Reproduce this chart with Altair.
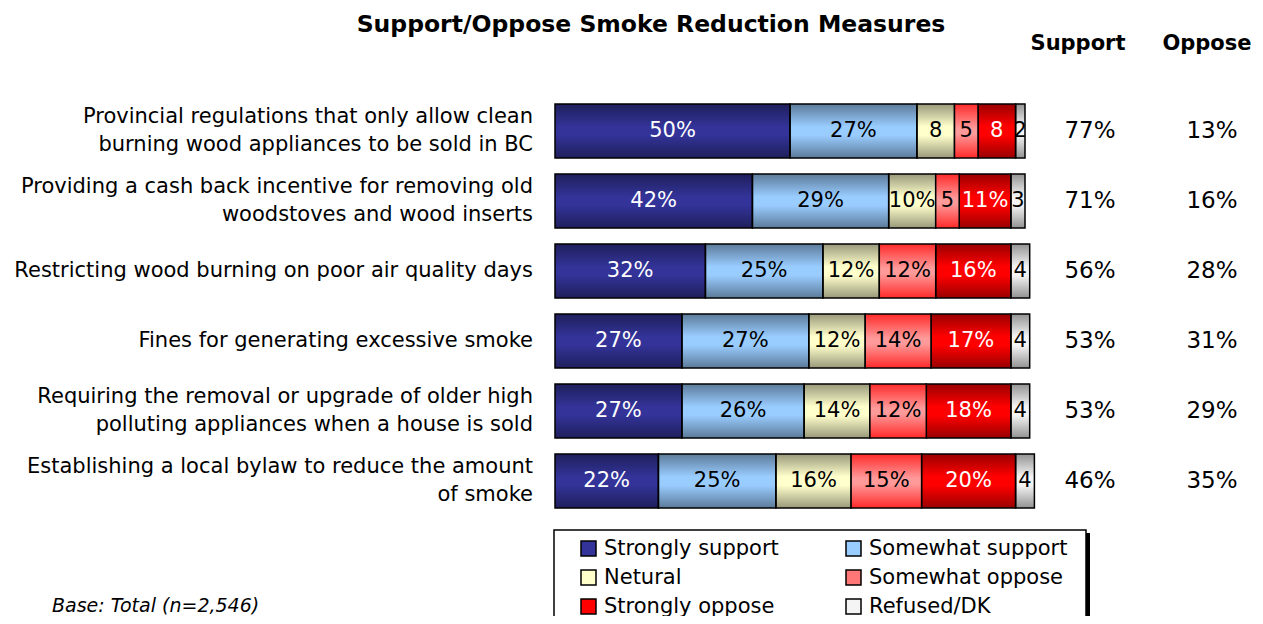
import altair as alt
import pandas as pd

title_text = "Support/Oppose Smoke Reduction Measures"
items = [
    "Provincial regulations that only allow clean\nburning wood appliances to be sold in BC",
    "Providing a cash back incentive for removing old\nwoodstoves and wood inserts",
    "Restricting wood burning on poor air quality days",
    "Fines for generating excessive smoke",
    "Requiring the removal or upgrade of older high\npolluting appliances when a house is sold",
    "Establishing a local bylaw to reduce the amount\nof smoke",
]
categories = ["Strongly support", "Somewhat support", "Netural",
              "Somewhat oppose", "Strongly oppose", "Refused/DK"]
strongly_support = [50, 42, 32, 27, 27, 22]
somewhat_support = [27, 29, 25, 27, 26, 25]
neutral = [8, 10, 12, 12, 14, 16]
somewhat_oppose = [5, 5, 12, 14, 12, 15]
strongly_oppose = [8, 11, 16, 17, 18, 20]
refused_dk = [2, 3, 4, 4, 4, 4]
support_totals = [77, 71, 56, 53, 53, 46]
oppose_totals = [13, 16, 28, 31, 29, 35]
base_note = "Base: Total (n=2,546)"

colors = ["#333399", "#99CCFF", "#FFFFCC", "#FF7777", "#FF0000", "#F4F4F4"]
FONT = "DejaVu Sans"

series = [strongly_support, somewhat_support, neutral,
          somewhat_oppose, strongly_oppose, refused_dk]
rows = []
for i, it in enumerate(items):
    for j, (cat, vals) in enumerate(zip(categories, series)):
        v = vals[i]
        rows.append({"item": it, "cat": cat, "order": j, "value": v,
                     "label": f"{v}%" if v >= 10 else str(v)})
df = pd.DataFrame(rows)

tot = pd.DataFrame({"item": items,
                    "sup": [f"{v}%" for v in support_totals],
                    "opp": [f"{v}%" for v in oppose_totals]})

y_enc = alt.Y("item:N", sort=items, axis=None,
              scale=alt.Scale(paddingInner=0.23, paddingOuter=0.115))
x_scale = alt.Scale(domain=[0, 100], nice=False, zero=True)

base = alt.Chart(df).transform_stack(
    stack="value", groupby=["item"], as_=["x0", "x1"],
    sort=[alt.SortField("order")]
).transform_calculate(mid="(datum.x0 + datum.x1) / 2")

bars = base.mark_bar(strokeWidth=0).encode(
    x=alt.X("x0:Q", scale=x_scale, axis=None),
    x2="x1:Q",
    y=y_enc,
    color=alt.Color("cat:N", scale=alt.Scale(domain=categories, range=colors),
                    legend=alt.Legend(title=None, orient="none", legendX=23, legendY=442,
                                      direction="horizontal",
                                      columns=2, columnPadding=64, rowPadding=7,
                                      symbolType="square", symbolSize=225,
                                      symbolStrokeColor="black", symbolStrokeWidth=1.5,
                                      labelFont=FONT, labelFontSize=21, labelColor="black",
                                      labelLimit=400, labelOffset=5, padding=0,
                                      symbolOpacity=1)),
)

is_so = "datum.cat === 'Somewhat oppose'"
shade = base.transform_filter("!(" + is_so + ")").mark_bar(
    fill=alt.Gradient(gradient="linear", x1=0, x2=0, y1=0, y2=1,
                      stops=[alt.GradientStop(color="rgba(0,0,0,0.40)", offset=0),
                             alt.GradientStop(color="rgba(0,0,0,0)", offset=0.42),
                             alt.GradientStop(color="rgba(0,0,0,0)", offset=0.58),
                             alt.GradientStop(color="rgba(0,0,0,0.40)", offset=1)]),
    stroke="black", strokeWidth=1.5,
).encode(x=alt.X("x0:Q", scale=x_scale, axis=None), x2="x1:Q", y=y_enc)

shade_so = base.transform_filter(is_so).mark_bar(
    fill=alt.Gradient(gradient="linear", x1=0, x2=0, y1=0, y2=1,
                      stops=[alt.GradientStop(color="#FF2A2A", offset=0),
                             alt.GradientStop(color="#FF9A9A", offset=0.45),
                             alt.GradientStop(color="#FF9A9A", offset=0.55),
                             alt.GradientStop(color="#FF2A2A", offset=1)]),
    stroke="black", strokeWidth=1.5,
).encode(x=alt.X("x0:Q", scale=x_scale, axis=None), x2="x1:Q", y=y_enc)

seg_text = base.mark_text(font=FONT, fontSize=21).encode(
    x=alt.X("mid:Q", scale=x_scale, axis=None),
    y=y_enc,
    text="label:N",
    color=alt.condition(alt.FieldOneOfPredicate(field="cat", oneOf=["Strongly support", "Strongly oppose"]),
                        alt.value("white"), alt.value("black")),
)

two_line = "indexof(datum.item, '\\n') >= 0"
row_labels_2 = alt.Chart(tot).transform_filter(two_line).mark_text(
    font=FONT, fontSize=21, align="right", lineBreak="\n", lineHeight=28,
    color="black", dy=-14).encode(x=alt.value(-22), y=y_enc, text="item:N")
row_labels_1 = alt.Chart(tot).transform_filter("!(" + two_line + ")").mark_text(
    font=FONT, fontSize=21, align="right", color="black").encode(
    x=alt.value(-22), y=y_enc, text="item:N")

sup_text = alt.Chart(tot).mark_text(font=FONT, fontSize=23, color="black").encode(
    x=alt.value(535), y=y_enc, text="sup:N")
opp_text = alt.Chart(tot).mark_text(font=FONT, fontSize=23, color="black").encode(
    x=alt.value(657), y=y_enc, text="opp:N")

one = pd.DataFrame({"t": [title_text], "s": ["Support"], "o": ["Oppose"], "b": [base_note]})
title = alt.Chart(one).mark_text(font=FONT, fontSize=23.5, fontWeight="bold", color="black").encode(
    x=alt.value(96), y=alt.value(-71), text="t:N")
h_sup = alt.Chart(one).mark_text(font=FONT, fontSize=21, fontWeight="bold", color="black").encode(
    x=alt.value(523), y=alt.value(-52), text="s:N")
h_opp = alt.Chart(one).mark_text(font=FONT, fontSize=21, fontWeight="bold", color="black").encode(
    x=alt.value(652), y=alt.value(-52), text="o:N")
note = alt.Chart(one).mark_text(font=FONT, fontSize=19, fontStyle="italic", align="left",
                                color="black").encode(
    x=alt.value(-503), y=alt.value(510), text="b:N")

legend_box = alt.Chart(one).mark_rect(fill="white", stroke="black", strokeWidth=1.5).encode(
    x=alt.value(-1), x2=alt.value(531), y=alt.value(434), y2=alt.value(540))
legend_shadow = alt.Chart(one).mark_rect(fill="black").encode(
    x=alt.value(531), x2=alt.value(535), y=alt.value(437), y2=alt.value(540))

chart = alt.layer(
    legend_shadow, legend_box, bars, shade, shade_so, seg_text, row_labels_2, row_labels_1,
    sup_text, opp_text, title, h_sup, h_opp, note
).properties(
    width=470, height=420,
    padding={"left": 547, "top": 88, "right": 230, "bottom": 100},
    autosize=alt.AutoSizeParams(type="none"),
).configure_view(stroke=None)

chart.save("out.html", embed_options={"renderer": "svg", "actions": False})
